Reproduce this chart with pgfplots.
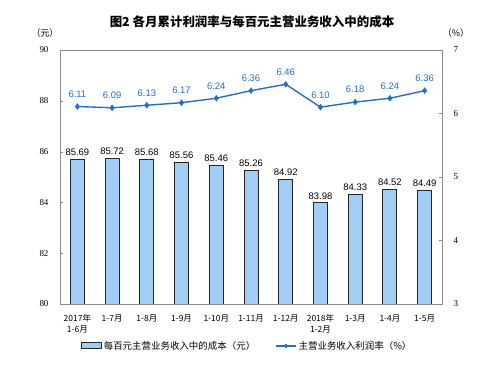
\documentclass[border=0pt]{standalone}
\usepackage{pgfplots}
\pgfplotsset{compat=1.18}
\usepackage{fontspec}
\setmainfont{Liberation Sans}
\newfontfamily\cjk{Noto Sans CJK SC}
\newfontfamily\serifnum{Liberation Serif}
\definecolor{barfill}{RGB}{160,206,245}
\definecolor{linec}{RGB}{35,110,200}
\definecolor{framec}{RGB}{140,140,140}
\begin{document}
\begin{tikzpicture}[x=1bp,y=1bp]
\useasboundingbox (0,0) rectangle (500,364);
\node[font=\cjk\bfseries\fontsize{12.5}{15}\selectfont] at (252,342) {图2 各月累计利润率与每百元主营业务收入中的成本};
\node[font=\cjk\fontsize{9}{10}\selectfont] at (45,331) {（元）};
\node[font=\cjk\fontsize{9}{10}\selectfont] at (456,331) {（\%）};
\begin{axis}[at={(60bp,60bp)}, anchor=south west, width=382bp, height=254bp, scale only axis,
  xmin=-0.5, xmax=10.5, ymin=80, ymax=90, ytick={80,82,...,90},
  ytick pos=left, axis line style={framec},
  major tick length=3bp, tick style={framec},
  xtick={0,...,10}, xtick style={draw=none},
  minor xtick={0.5,1.5,...,9.5}, minor tick length=3bp, minor tick style={framec},
  xticklabels={{2017年\\1-6月},1-7月,1-8月,1-9月,1-10月,1-11月,1-12月,{2018年\\1-2月},1-3月,1-4月,1-5月},
  xticklabel style={font=\cjk\fontsize{8.5}{10.5}\selectfont, align=center, yshift=-4bp},
  yticklabel style={font=\serifnum\fontsize{9}{10}\selectfont, xshift=-8bp},
  /pgf/number format/assume math mode=true,
  ybar, bar width=14bp,
  nodes near coords={\pgfmathprintnumber[fixed,precision=2,fixed zerofill]{\pgfplotspointmeta}},
  every node near coord/.append style={font=\fontsize{9.5}{10}\selectfont, black, yshift=0bp},
]
\addplot[fill=barfill, draw=black!85, line width=0.9pt] coordinates {
(0,85.69) (1,85.72) (2,85.68) (3,85.56) (4,85.46) (5,85.26) (6,84.92) (7,83.98) (8,84.33) (9,84.52) (10,84.49)};
\end{axis}
\begin{axis}[at={(60bp,60bp)}, anchor=south west, width=382bp, height=254bp, scale only axis,
  xmin=-0.5, xmax=10.5, ymin=3, ymax=7, ytick={3,4,...,7},
  ytick pos=right, yticklabel pos=right, axis line style={framec},
  major tick length=3bp, tick style={framec},
  xtick=\empty,
  yticklabel style={font=\serifnum\fontsize{9}{10}\selectfont, xshift=8bp},
  /pgf/number format/assume math mode=true,
  legend style={at={(0.49,-0.165)}, anchor=center, draw=none, legend columns=2,
    font=\cjk\fontsize{9.5}{11}\selectfont, /tikz/every even column/.append style={column sep=18bp}},
  legend image code/.code={},
]
\addlegendimage{legend image code/.code={\draw[fill=barfill,draw=black!85,line width=0.9pt] (0bp,-3bp) rectangle (20bp,3bp);}}
\addlegendentry{每百元主营业务收入中的成本（元）}
\addplot[color=linec, line width=1.4pt, mark=diamond*, mark size=2.2pt,
  nodes near coords={\pgfmathprintnumber[fixed,precision=2,fixed zerofill]{\pgfplotspointmeta}},
  every node near coord/.append style={font=\fontsize{9.5}{10}\selectfont, text=linec, yshift=5bp},
  legend image code/.code={\draw[linec,line width=1.4pt] (0bp,0bp) -- (20bp,0bp); \fill[linec] (10bp,0bp) circle (1.3bp);}
] coordinates {
(0,6.11) (1,6.09) (2,6.13) (3,6.17) (4,6.24) (5,6.36) (6,6.46) (7,6.10) (8,6.18) (9,6.24) (10,6.36)};
\addlegendentry{主营业务收入利润率（\%）}
\end{axis}
\end{tikzpicture}
\end{document}
